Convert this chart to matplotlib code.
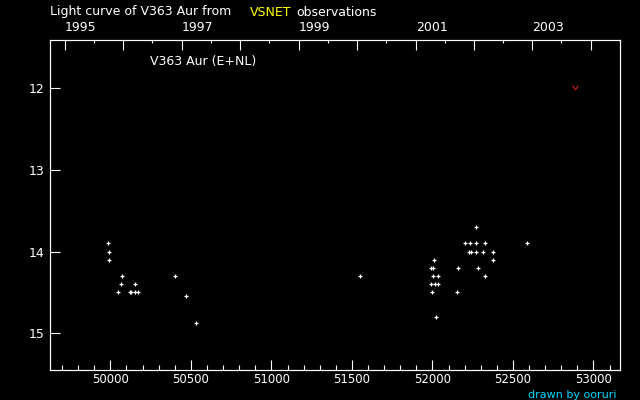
import matplotlib
matplotlib.use("Agg")
import matplotlib.pyplot as plt
from matplotlib.path import Path
import datetime as dt

# ---- data (MJD-like JD-2400000, magnitude) ----
jd = [49987, 49993, 49993, 50074, 50068, 50153, 50049, 50122, 50130, 50153, 50170,
      50403, 50471, 50534,
      51552,
      51999, 51993, 52016, 52033, 52006, 52037, 51993, 52006, 52012, 52024,
      52155, 52161,
      52204, 52235, 52273, 52329, 52589,
      52229, 52238, 52273, 52316, 52378,
      52273, 52378, 52286, 52329]
mag = [13.9, 14.0, 14.1, 14.3, 14.4, 14.4, 14.5, 14.5, 14.5, 14.5, 14.5,
       14.3, 14.54, 14.87,
       14.3,
       14.5, 14.4, 14.4, 14.4, 14.3, 14.3, 14.2, 14.2, 14.1, 14.8,
       14.5, 14.2,
       13.9, 13.9, 13.9, 13.9, 13.9,
       14.0, 14.0, 14.0, 14.0, 14.0,
       13.7, 14.1, 14.2, 14.3]
lim_jd = [52886]
lim_mag = [12.0]

x_ticks = [50000, 50500, 51000, 51500, 52000, 52500, 53000]
y_ticks = [12, 13, 14, 15]
years = list(range(1995, 2005))
label_years = [1995, 1997, 1999, 2001, 2003]

def year_jd(y, m=1, d=1):
    return (dt.date(y, m, d) - dt.date(1858, 11, 17)).days

fig = plt.figure(figsize=(6.4, 4.0), dpi=100, facecolor='black')
ax = fig.add_axes([50/640, 30/400, 570/640, 330/400], facecolor='black')

ax.plot(jd, mag, linestyle='none', marker='+', color='white', markersize=3.4, mew=0.9)
vpath = Path([(-1, 1), (0, -0.5), (1, 1)], [Path.MOVETO, Path.LINETO, Path.LINETO])
ax.plot(lim_jd, lim_mag, linestyle='none', marker=vpath, color='#d02020',
        markersize=4, mew=0.8, fillstyle='none')

ax.set_xlim(49625, 53165)
ax.set_ylim(15.45, 11.41)
for s in ax.spines.values():
    s.set_color('white')
    s.set_linewidth(0.8)

ax.set_xticks(x_ticks)
ax.set_xticklabels([str(v) for v in x_ticks])
ax.set_xticks(list(range(49700, 53200, 100)), minor=True)
ax.set_yticks(y_ticks)
ax.set_yticklabels([str(v) for v in y_ticks])
ax.tick_params(axis='x', which='major', direction='in', length=7, width=0.8,
               colors='white', labelsize=8.5, pad=2.5, top=False)
ax.tick_params(axis='x', which='minor', direction='in', length=3.5, width=0.8,
               colors='white', top=False)
ax.tick_params(axis='y', which='major', direction='in', length=7, width=0.8,
               colors='white', labelsize=9, pad=4, right=False)

# top year axis
ax2 = ax.twiny()
ax2.set_xlim(ax.get_xlim())
ax2.set_xticks([year_jd(y) for y in years])
ax2.set_xticklabels([str(y) if y in label_years else '' for y in years], ha='left')
ax2.set_xticks([year_jd(y, 7, 1) for y in years], minor=True)
ax2.tick_params(axis='x', which='major', direction='in', length=7, width=0.8,
                colors='white', labelsize=9, pad=4)
ax2.tick_params(axis='x', which='minor', direction='in', length=2.5, width=0.8,
                colors='white')
for s in ax2.spines.values():
    s.set_color('white')
    s.set_linewidth(0.8)
for lab in ax2.get_xticklabels():
    lab.set_horizontalalignment('left')

# texts
fig.text(50/640, 1 - 12/400, 'Light curve of V363 Aur from', color='white',
         fontsize=9, va='center', ha='left')
fig.text(250/640, 1 - 12/400, 'VSNET', color='#ffff00', fontsize=9, va='center', ha='left')
fig.text(296/640, 1 - 12/400, 'observations', color='white', fontsize=9, va='center', ha='left')
fig.text(150/640, 1 - 61/400, 'V363 Aur (E+NL)', color='white', fontsize=9, va='center', ha='left')
fig.text(617/640, 1 - 399.5/400, 'drawn by ooruri', color='#00d8ff', fontsize=8,
         va='bottom', ha='right')

fig.savefig('out.png', dpi=100, facecolor='black')
